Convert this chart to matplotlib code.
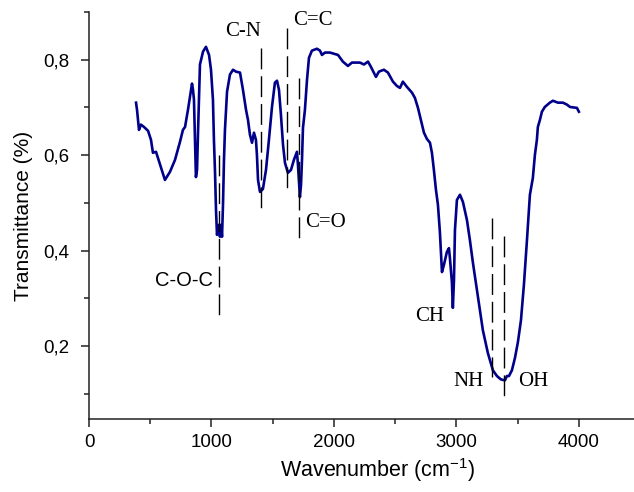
import matplotlib
matplotlib.use('Agg')
import matplotlib.pyplot as plt
from matplotlib.ticker import MultipleLocator, FuncFormatter

# FTIR spectrum (wavenumber in cm-1, transmittance)
wavenumber = [384, 392, 408, 424, 449, 482, 506, 522, 547, 580, 620, 661, 702, 743, 767, 784,
              808, 824, 841, 849, 857, 873, 882, 890, 906, 931, 955, 980, 996, 1012, 1020, 1029,
              1037, 1045, 1061, 1069, 1078, 1086, 1094, 1102, 1110, 1127, 1151, 1176, 1200, 1233,
              1257, 1282, 1298, 1314, 1331, 1347, 1363, 1371, 1380, 1396, 1420, 1445, 1469, 1494,
              1518, 1535, 1551, 1567, 1584, 1600, 1624, 1649, 1673, 1698, 1706, 1722, 1731, 1739,
              1747, 1763, 1780, 1796, 1820, 1861, 1886, 1902, 1927, 1967, 2033, 2073, 2114, 2147,
              2212, 2245, 2278, 2302, 2343, 2367, 2408, 2441, 2482, 2514, 2539, 2563, 2596, 2637,
              2661, 2686, 2710, 2735, 2759, 2784, 2800, 2816, 2833, 2849, 2865, 2882, 2898, 2922,
              2939, 2947, 2963, 2971, 2980, 2988, 3004, 3029, 3053, 3086, 3110, 3135, 3176, 3216,
              3257, 3298, 3331, 3363, 3396, 3412, 3429, 3453, 3478, 3502, 3527, 3551, 3576, 3600,
              3624, 3641, 3657, 3665, 3682, 3698, 3722, 3763, 3788, 3829, 3869, 3902, 3927, 3984,
              4000]
transmittance = [0.710, 0.695, 0.653, 0.664, 0.659, 0.651, 0.632, 0.605, 0.607, 0.580, 0.548,
                 0.565, 0.590, 0.628, 0.653, 0.659, 0.695, 0.722, 0.750, 0.737, 0.716, 0.554,
                 0.569, 0.647, 0.790, 0.817, 0.827, 0.810, 0.779, 0.716, 0.632, 0.563, 0.485,
                 0.433, 0.454, 0.429, 0.454, 0.429, 0.496, 0.590, 0.653, 0.733, 0.769, 0.779,
                 0.775, 0.773, 0.737, 0.695, 0.674, 0.643, 0.626, 0.647, 0.632, 0.601, 0.548,
                 0.523, 0.529, 0.569, 0.632, 0.701, 0.752, 0.756, 0.737, 0.685, 0.622, 0.584,
                 0.563, 0.569, 0.590, 0.607, 0.580, 0.512, 0.538, 0.590, 0.657, 0.695, 0.758,
                 0.804, 0.819, 0.823, 0.819, 0.810, 0.815, 0.815, 0.810, 0.796, 0.787, 0.794,
                 0.794, 0.790, 0.796, 0.785, 0.764, 0.775, 0.779, 0.773, 0.754, 0.745, 0.741,
                 0.754, 0.743, 0.731, 0.720, 0.699, 0.674, 0.647, 0.634, 0.626, 0.605, 0.569,
                 0.527, 0.496, 0.439, 0.355, 0.370, 0.397, 0.405, 0.384, 0.334, 0.280, 0.338,
                 0.443, 0.506, 0.517, 0.502, 0.464, 0.422, 0.374, 0.303, 0.233, 0.185, 0.149,
                 0.137, 0.130, 0.128, 0.137, 0.137, 0.149, 0.175, 0.208, 0.254, 0.328, 0.422,
                 0.517, 0.552, 0.601, 0.632, 0.659, 0.674, 0.691, 0.701, 0.710, 0.714, 0.710,
                 0.710, 0.706, 0.701, 0.699, 0.691]

# band markers: position, dashed line span (top, bottom), label text and label anchor
band_x = [1061, 1404, 1616, 1714, 3290, 3388]
band_top = [0.601, 0.825, 0.867, 0.762, 0.468, 0.431]
band_bot = [0.265, 0.489, 0.531, 0.427, 0.134, 0.093]

label_text = ['C-O-C', 'C-N', 'C=C', 'C=O', 'CH', 'NH', 'OH']
label_x = [1012, 1257, 1829, 1935, 2784, 3102, 3624]
label_y = [0.338, 0.859, 0.882, 0.458, 0.261, 0.126, 0.126]
label_ha = ['right', 'center', 'center', 'center', 'center', 'center', 'center']
label_serif = [False, True, True, True, True, True, True]

plt.rcParams['font.family'] = ['Liberation Sans', 'DejaVu Sans']
plt.rcParams['mathtext.fontset'] = 'custom'
plt.rcParams['mathtext.rm'] = 'Liberation Sans'
plt.rcParams['mathtext.it'] = 'Liberation Sans'

fig = plt.figure(figsize=(6.34, 4.92), dpi=100)
ax = fig.add_axes([0.1404, 0.1484, 0.8596, 0.8272])

ax.plot(wavenumber, transmittance, color='#00008b', lw=1.9, solid_joinstyle='round')

# draw each marker from top to bottom so the dash pattern starts at the top
for x, y1, y0 in zip(band_x, band_top, band_bot):
    ax.plot([x, x], [y1, y0], color='black', lw=1.0, dashes=(15, 5))

for t, x, y, ha, serif in zip(label_text, label_x, label_y, label_ha, label_serif):
    if serif:
        ax.text(x, y, t, ha=ha, va='center', fontsize=15, family='Liberation Serif')
    else:
        ax.text(x, y, t, ha=ha, va='center', fontsize=14.5)

ax.set_xlim(0, 4450)
ax.set_ylim(0.047, 0.9)
ax.xaxis.set_major_locator(MultipleLocator(1000))
ax.xaxis.set_minor_locator(MultipleLocator(500))
ax.yaxis.set_major_locator(MultipleLocator(0.2))
ax.yaxis.set_minor_locator(MultipleLocator(0.1))
ax.yaxis.set_major_formatter(FuncFormatter(lambda v, p: ('%.1f' % v).replace('.', ',')))

ax.spines['top'].set_visible(False)
ax.spines['right'].set_visible(False)
for s in ['left', 'bottom']:
    ax.spines[s].set_linewidth(1.1)
    ax.spines[s].set_color('#222222')
ax.tick_params(which='major', direction='out', length=6, width=1.1, labelsize=13.5, color='#222222')
ax.tick_params(axis='x', which='major', pad=5)
ax.tick_params(axis='y', which='major', pad=8)
ax.tick_params(which='minor', direction='out', length=3.5, width=1.1, color='#222222')

ax.set_xlabel('Wavenumber (cm$^{-1}$)', fontsize=15.5, labelpad=3)
ax.xaxis.set_label_coords(0.53, -0.09)
ax.set_ylabel('Transmittance (%)', fontsize=15)
ax.yaxis.set_label_coords(-0.103, 0.5)

fig.savefig('out.png', dpi=100)
